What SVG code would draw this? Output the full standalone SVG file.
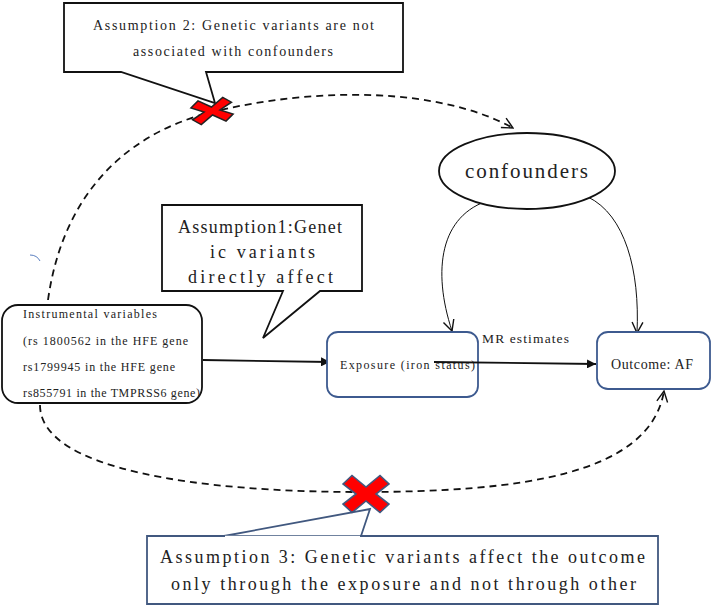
<svg xmlns="http://www.w3.org/2000/svg" width="712" height="606" viewBox="0 0 712 606">
<style>
.t{font-family:"Liberation Serif","DejaVu Serif",serif;fill:#222}
.box{fill:#fff;stroke:#111;stroke-width:1.8}
.bbox{fill:#fff;stroke:#3d5a8f;stroke-width:1.8}
.dash{fill:none;stroke:#111;stroke-width:1.8;stroke-dasharray:7,5}
.thin{fill:none;stroke:#111;stroke-width:1}
.solid{fill:none;stroke:#111;stroke-width:1.8}
</style>
<defs>
<marker id="tri" viewBox="0 0 10 10" refX="10" refY="5" markerWidth="9" markerHeight="9" markerUnits="userSpaceOnUse" orient="auto">
<path d="M0,0 L10,5 L0,10 Z" fill="#111"/>
</marker>
<marker id="vee" viewBox="0 0 12 12" refX="11" refY="6" markerWidth="13" markerHeight="13" markerUnits="userSpaceOnUse" orient="auto">
<path d="M1,1 L11,6 L1,11" fill="none" stroke="#111" stroke-width="1.3"/>
</marker>
</defs>
<g id="connectors">
<path class="dash" d="M48,300 C62,200 120,135 212,112 C320,86 440,88 513,128" marker-end="url(#vee)"/>
<path class="dash" d="M40,405 C40,470 200,492 360,492 C520,492 650,475 664,391" marker-end="url(#vee)"/>
<path class="solid" d="M203,360 L330,362" marker-end="url(#tri)"/>
<path class="thin" d="M490,200 C440,215 432,270 452,331" marker-end="url(#vee)"/>
<path class="thin" d="M588,197 C625,215 640,270 637,333" marker-end="url(#vee)"/>
</g>
<g id="instrumental">
<rect class="box" x="2" y="305" width="200" height="98" rx="16"/>
<text class="t" font-size="12" x="23" y="318" textLength="134" lengthAdjust="spacing">Instrumental variables</text>
<text class="t" font-size="12" x="23" y="345" textLength="165" lengthAdjust="spacing">(rs 1800562 in the HFE gene</text>
<text class="t" font-size="12" x="23" y="371" textLength="152" lengthAdjust="spacing">rs1799945 in the HFE gene</text>
<text class="t" font-size="12" x="23" y="397" textLength="177" lengthAdjust="spacing">rs855791 in the TMPRSS6 gene)</text>
</g>
<g id="exposure">
<rect class="bbox" x="327" y="332" width="151" height="65" rx="11"/>
<text class="t" font-size="12" x="340" y="369" textLength="135" lengthAdjust="spacing">Exposure (iron status)</text>
</g>
<path class="solid" d="M434,362 L596,364" marker-end="url(#tri)"/>
<text class="t" font-size="13.5" x="482" y="343" textLength="87" lengthAdjust="spacing">MR estimates</text>
<g id="outcome">
<rect class="bbox" x="597" y="332" width="113" height="57" rx="11"/>
<text class="t" font-size="14" x="611" y="369" textLength="82" lengthAdjust="spacing">Outcome: AF</text>
</g>
<g id="confounders">
<ellipse cx="527" cy="171" rx="88" ry="38" fill="#fff" stroke="#111" stroke-width="1.8"/>
<text class="t" font-size="21" x="465" y="178" textLength="123" lengthAdjust="spacing">confounders</text>
</g>
<g id="assumption2">
<path class="box" d="M64,3 H403 V72 H206 L215,103 L121,72 H64 Z"/>
<text class="t" font-size="14" x="93" y="30" textLength="281" lengthAdjust="spacing">Assumption 2: Genetic variants are not</text>
<text class="t" font-size="14" x="133" y="56" textLength="200" lengthAdjust="spacing">associated with confounders</text>
</g>
<g id="cross2">
<path d="M-20.5,-6 L-12.5,-12 L0,-4 L12.5,-12 L20.5,-6 L8,0 L20.5,6 L12.5,12 L0,4 L-12.5,12 L-20.5,6 L-8,0 Z" transform="translate(212,111) rotate(-8)" fill="#f00" stroke="#222" stroke-width="1.5"/>
</g>
<g id="assumption1">
<path class="box" d="M162,205 H362 V291 H320 L263,338 L283,291 H162 Z"/>
<text class="t" font-size="18" x="178" y="233" textLength="164" lengthAdjust="spacing">Assumption1:Genet</text>
<text class="t" font-size="18" x="210" y="258" textLength="105" lengthAdjust="spacing">ic variants</text>
<text class="t" font-size="18" x="188" y="283" textLength="145" lengthAdjust="spacing">directly affect</text>
</g>
<g id="assumption3">
<path d="M147,536 H658 V604 H147 Z M224,536 L370,509 L361,536" fill="#fff" stroke="#41587f" stroke-width="1.8"/>
<path d="M225,537 L360,537" stroke="#fff" stroke-width="2.5"/>
<text class="t" font-size="18" x="160" y="563" textLength="485" lengthAdjust="spacing">Assumption 3: Genetic variants affect the outcome</text>
<text class="t" font-size="18" x="171" y="590" textLength="465" lengthAdjust="spacing">only through the exposure and not through other</text>
</g>
<g id="cross3">
<path d="M-23,-10 L-14,-18.5 L0,-7 L14,-18.5 L23,-10 L10,0 L23,10 L14,18.5 L0,7 L-14,18.5 L-23,10 L-10,0 Z" transform="translate(366,494)" fill="#f00" stroke="#41587f" stroke-width="1.6"/>
</g>
<path d="M30,255 Q37,255 40,261" fill="none" stroke="#5b7fc0" stroke-width="1"/>
</svg>
